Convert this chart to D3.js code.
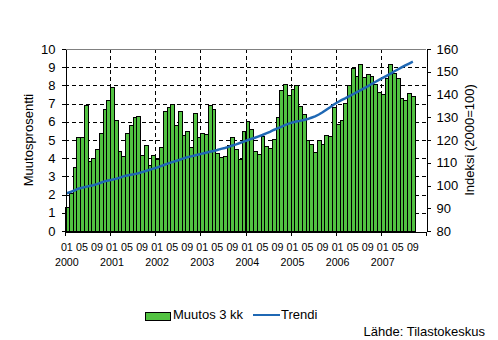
<!DOCTYPE html>
<html>
<head>
<meta charset="utf-8">
<script src="https://cdn.jsdelivr.net/npm/d3@7"></script>
<style>
  html, body { margin: 0; padding: 0; background: #fff; }
  svg { display: block; font-family: "Liberation Sans", Arial, sans-serif; }
</style>
</head>
<body>
<svg id="chart" width="498" height="340"></svg>
<script>
// Years shown on the time axis and month labels repeated each year
const years = ["2000", "2001", "2002", "2003", "2004", "2005", "2006", "2007"];
const monthTickLabels = ["01", "05", "09"];

// Change over 3 months, per cent (left axis)
const change3m = [
  1.3, 2.1, 3.5, 5.15, 5.15, 6.9, 3.85, 4.0, 4.5, 5.4, 6.7, 7.2,
  7.9, 6.1, 4.4, 4.1, 5.4, 5.85, 6.25, 6.3, 4.2, 4.7, 3.65, 4.2,
  3.95, 4.6, 6.6, 6.8, 7.0, 5.8, 6.6, 5.3, 5.5, 4.6, 6.5, 5.15,
  5.4, 5.35, 6.95, 6.7, 4.3, 4.05, 4.1, 4.7, 5.15, 4.5, 3.95, 5.5,
  6.05, 5.6, 4.4, 4.25, 5.2, 4.65, 4.55, 5.05, 6.25, 7.75, 8.1, 7.5,
  7.8, 8.0, 6.85, 6.45, 5.0, 4.8, 4.35, 5.0, 4.8, 5.3, 5.2, 6.8,
  5.9, 6.1, 7.05, 8.0, 8.95, 8.5, 9.2, 8.45, 8.6, 8.5, 8.1, 7.65,
  7.55, 8.4, 9.2, 8.7, 8.4, 7.3, 7.2, 7.6, 7.4
];

// Trend index, 2000 = 100 (right axis)
const trend = [
  96.6, 97.2, 97.8, 98.6, 99.0, 99.4, 99.8, 100.1, 100.6, 101.2, 101.8, 102.2,
  102.5, 102.9, 103.4, 104.0, 104.4, 104.7, 105.0, 105.4, 105.9, 106.4, 106.9, 107.4,
  107.9, 108.5, 109.1, 109.7, 110.3, 110.8, 111.3, 111.9, 112.4, 112.8, 113.2, 113.6,
  114.0, 114.4, 114.8, 115.2, 115.6, 116.1, 116.5, 117.0, 117.6, 118.1, 118.7, 119.3,
  119.9, 120.5, 121.0, 121.6, 122.2, 122.9, 123.6, 124.4, 125.1, 125.8, 126.5, 127.2,
  127.7, 128.1, 128.4, 128.8, 129.2, 129.8, 130.4, 131.2, 132.2, 133.3, 134.4, 135.6,
  136.6, 137.5, 138.3, 139.2, 140.0, 140.9, 141.8, 142.7, 143.6, 144.6, 145.5, 146.4,
  147.3, 148.2, 149.1, 150.1, 151.0, 151.9, 152.8, 153.6, 154.4
];

const leftTicks = [0, 1, 2, 3, 4, 5, 6, 7, 8, 9, 10];
const rightTicks = [80, 90, 100, 110, 120, 130, 140, 150, 160];

// Monthly periods covering the full axis span
const periods = [];
years.forEach(y => {
  for (let m = 1; m <= 12; m++) periods.push(y + "-" + String(m).padStart(2, "0"));
});

const GREEN = "#52c241";
const BLUE = "#1f68b4";

const svg = d3.select("#chart");
const L = 65, R = 426, T = 49, B = 231;

const x = d3.scaleBand().domain(periods).range([L, R]).paddingInner(0).paddingOuter(0);
const xEdge = d3.scaleLinear().domain([0, periods.length]).range([L, R]);
const yL = d3.scaleLinear().domain([0, 10]).range([B, T]);
const yR = d3.scaleLinear().domain([80, 160]).range([B, T]);

// Dashed grid
const grid = svg.append("g").attr("stroke", "#000").attr("stroke-width", 1)
  .attr("stroke-dasharray", "4,3").attr("shape-rendering", "crispEdges");
grid.selectAll("line.h").data(leftTicks.slice(1, -1)).join("line")
  .attr("x1", L).attr("x2", R)
  .attr("y1", d => Math.round(yL(d)) + 0.5).attr("y2", d => Math.round(yL(d)) + 0.5);
grid.selectAll("line.v").data(years.slice(1)).join("line")
  .attr("x1", d => Math.round(x(d + "-01")) + 0.5).attr("x2", d => Math.round(x(d + "-01")) + 0.5)
  .attr("y1", T).attr("y2", B);

// Plot frame top edge
svg.append("line").attr("x1", L).attr("x2", R).attr("y1", T + 0.5).attr("y2", T + 0.5)
  .attr("stroke", "#808080").attr("shape-rendering", "crispEdges");

// Bars: black outline shared with the neighbour, green fill
const barData = change3m.map((v, i) => ({ p: periods[i], v }));
svg.append("g").attr("shape-rendering", "crispEdges")
  .selectAll("rect").data(barData).join("rect")
  .attr("x", d => Math.round(x(d.p)) + 0.5)
  .attr("width", d => Math.round(x(d.p) + x.bandwidth()) - Math.round(x(d.p)))
  .attr("y", d => Math.round(yL(d.v)) + 0.5)
  .attr("height", d => B - Math.round(yL(d.v)))
  .attr("fill", GREEN)
  .attr("stroke", "#000")
  .attr("stroke-width", 1);

// Trend line
const trendData = trend.map((v, i) => ({ p: periods[i], v }));
svg.append("path").datum(trendData)
  .attr("fill", "none").attr("stroke", BLUE).attr("stroke-width", 2.5)
  .attr("d", d3.line().x(d => x(d.p) + x.bandwidth() / 2).y(d => yR(d.v)));

// Left axis
const axL = svg.append("g").attr("transform", `translate(${L + 0.5},0)`)
  .call(d3.axisLeft(yL).tickValues(leftTicks).tickSize(4).tickSizeOuter(0).tickPadding(6));
// Right axis
const axR = svg.append("g").attr("transform", `translate(${R + 0.5},0)`)
  .call(d3.axisRight(yR).tickValues(rightTicks).tickSize(4).tickSizeOuter(0).tickPadding(6));
// Bottom axis with ticks at year boundaries
const axB = svg.append("g").attr("transform", `translate(0,${B + 0.5})`)
  .call(d3.axisBottom(xEdge).tickValues(d3.range(0, periods.length + 1, 12))
    .tickSize(4).tickSizeOuter(0).tickFormat(""));

[axL, axR, axB].forEach(g => {
  g.selectAll("path, line").attr("stroke", "#000").attr("shape-rendering", "crispEdges");
  g.selectAll("text").attr("font-size", 13).attr("fill", "#000")
    .attr("font-family", "'Liberation Sans', Arial, sans-serif");
});

// Month and year labels
const monthLabels = [];
years.forEach(y => monthTickLabels.forEach(m => {
  if (periods.indexOf(y + "-" + m) < change3m.length) monthLabels.push(y + "-" + m);
}));
svg.append("g").selectAll("text").data(monthLabels).join("text")
  .attr("x", d => x(d) + x.bandwidth() / 2).attr("y", 251)
  .attr("text-anchor", "middle").attr("font-size", 10.7).text(d => d.slice(5));
svg.append("g").selectAll("text").data(years).join("text")
  .attr("x", d => x(d + "-01") + x.bandwidth() / 2).attr("y", 266)
  .attr("text-anchor", "middle").attr("font-size", 10.7).text(d => d);

// Axis titles
svg.append("text").attr("transform", "translate(33,140) rotate(-90)")
  .attr("text-anchor", "middle").attr("font-size", 13).text("Muutosprosentti");
svg.append("text").attr("transform", "translate(474,140) rotate(-90)")
  .attr("text-anchor", "middle").attr("font-size", 13).text("Indeksi (2000=100)");

// Legend
const lg = svg.append("g");
lg.append("rect").attr("x", 145.5).attr("y", 312.5).attr("width", 25).attr("height", 7.5)
  .attr("fill", GREEN).attr("stroke", "#000").attr("shape-rendering", "crispEdges");
lg.append("text").attr("x", 173).attr("y", 319).attr("font-size", 13).text("Muutos 3 kk");
lg.append("line").attr("x1", 253).attr("x2", 280).attr("y1", 315).attr("y2", 315)
  .attr("stroke", BLUE).attr("stroke-width", 2);
lg.append("text").attr("x", 281).attr("y", 319).attr("font-size", 13).text("Trendi");

// Source
svg.append("text").attr("x", 485).attr("y", 336).attr("text-anchor", "end")
  .attr("font-size", 13).text("Lähde: Tilastokeskus");
</script>
</body>
</html>
